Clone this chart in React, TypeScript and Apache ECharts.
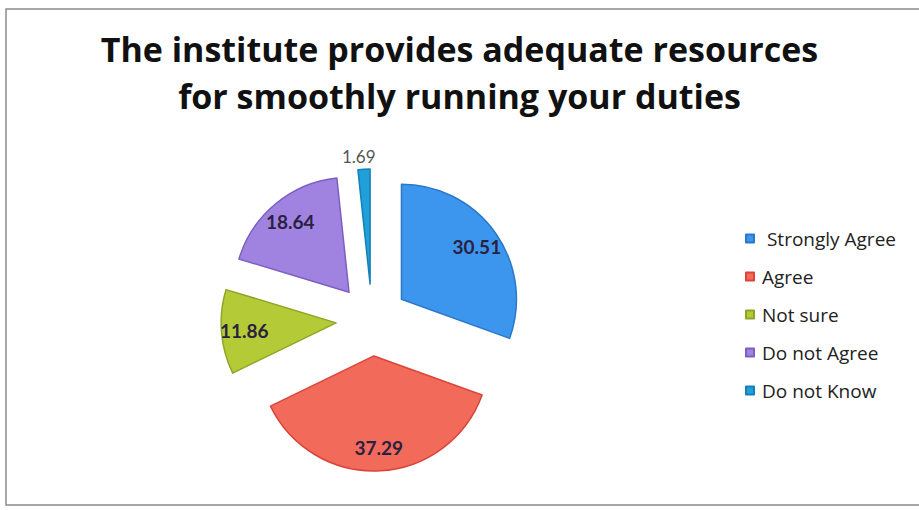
import React, { useEffect, useRef } from "react";
import * as echarts from "echarts";

const categories = ["Strongly Agree", "Agree", "Not sure", "Do not Agree", "Do not Know"];
const values = [30.51, 37.29, 11.86, 18.64, 1.69];
const colors = ["#3C96EE", "#F26A5A", "#B4CA36", "#A083E0", "#1FA0DA"];
const borderColors = ["#2A78C8", "#D9453A", "#8FA526", "#7C5FC0", "#1480B8"];
const titleText = "The institute provides adequate resources\nfor smoothly running your duties";

export default function App() {
  const ref = useRef<HTMLDivElement>(null);
  useEffect(() => {
    if (!ref.current) return;
    const chart = echarts.init(ref.current, null, { renderer: "svg" });
    const R = 115;
    const center = [372, 320];
    const fmt = (p: any) => Number(p.value).toFixed(2);
    const mainData = categories.map((name, i) => ({
      name,
      value: values[i],
      selected: true,
      itemStyle: { color: colors[i], borderColor: borderColors[i], borderWidth: 1.5 },
      label:
        i === 4
          ? { show: true, position: "outside", color: "#555", fontSize: 17, fontWeight: "normal", formatter: fmt }
          : { show: false },
      labelLine: { show: false, length: 4, length2: 0 },
    }));
    const overlayData = categories.map((name, i) => ({
      name,
      value: values[i],
      selected: true,
      itemStyle: { color: "rgba(0,0,0,0)" },
      label: { show: i !== 4 },
    }));
    chart.setOption({
      animation: false,
      backgroundColor: "#ffffff",
      title: {
        text: titleText,
        left: "center",
        top: 20,
        padding: [5, 5, 5, 23],
        textStyle: {
          fontFamily: "Open Sans",
          fontSize: 34,
          fontWeight: "bold",
          color: "#111",
          lineHeight: 47,
        },
      },
      legend: {
        orient: "vertical",
        left: 740,
        top: 224,
        itemWidth: 8,
        itemHeight: 8,
        itemGap: 19,
        icon: "rect",
        formatter: (name: string) => (name === categories[0] ? " " + name : name),
        data: categories.map((name, i) => ({ name, itemStyle: { color: colors[i] } })),
        textStyle: { fontFamily: "Open Sans", fontSize: 19, color: "#222", lineHeight: 19, padding: [0, 0, 0, 3] },
      },
      graphic: [
        {
          type: "rect",
          shape: { x: 6, y: 9, width: 1000, height: 496 },
          style: { fill: "none", stroke: "#8a8a8a", lineWidth: 1.5 },
          silent: true,
        },
      ],
      series: [
        {
          type: "pie",
          center,
          radius: [0, R],
          startAngle: 90,
          clockwise: true,
          selectedMode: "multiple",
          selectedOffset: 36,
          avoidLabelOverlap: false,
          label: { fontFamily: "Lato" },
          labelLayout: (p: any) =>
            p.dataIndex === 4 ? { align: "center", verticalAlign: "bottom", dy: 0 } : {},
          emphasis: { disabled: true },
          data: mainData,
        },
        {
          type: "pie",
          center,
          radius: [0, R * 1.55],
          startAngle: 90,
          clockwise: true,
          selectedMode: "multiple",
          selectedOffset: 36,
          silent: true,
          avoidLabelOverlap: false,
          label: {
            position: "inside",
            fontFamily: "Lato",
            fontSize: 19,
            fontWeight: "bold",
            color: "#2a2140",
            formatter: fmt,
          },
          labelLine: { show: false },
          emphasis: { disabled: true },
          data: overlayData,
        },
      ],
    });
    return () => chart.dispose();
  }, []);
  return (
    <div
      ref={ref}
      style={{ position: "fixed", left: 0, top: 0, width: 919, height: 510 }}
    />
  );
}
